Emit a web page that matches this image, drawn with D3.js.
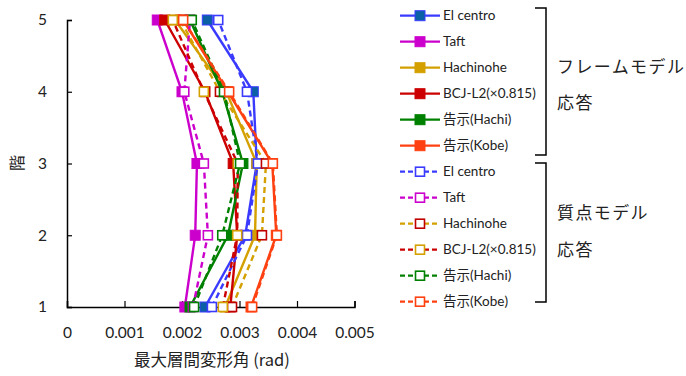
<!DOCTYPE html>
<html lang="ja">
<head>
<meta charset="UTF-8">
<title>最大層間変形角</title>
<script src="https://cdn.jsdelivr.net/npm/d3@7"></script>
<style>
  body { margin: 0; background: #fff; }
  text { font-family: Lato, "Noto Sans CJK JP", sans-serif; fill: #222; }
  .jp { font-family: "Noto Sans CJK JP", sans-serif; }
</style>
</head>
<body>
<script>
// stories (y) and x ticks
var stories = [1, 2, 3, 4, 5];
var xTicks = [0, 0.001, 0.002, 0.003, 0.004, 0.005];
var names = ["El centro", "Taft", "Hachinohe", "BCJ-L2(×0.815)", "告示(Hachi)", "告示(Kobe)"];

// frame model response (solid)
var frameElcentro = [0.00240, 0.00310, 0.00330, 0.00324, 0.00244];
var frameTaft     = [0.00205, 0.00223, 0.00226, 0.00200, 0.00157];
var frameHachinohe= [0.00275, 0.00327, 0.00330, 0.00277, 0.00188];
var frameBCJ      = [0.00284, 0.00296, 0.00289, 0.00240, 0.00170];
var frameHachi    = [0.00214, 0.00280, 0.00306, 0.00270, 0.00214];
var frameKobe     = [0.00320, 0.00364, 0.00357, 0.00280, 0.00202];

// mass model response (dashed)
var massElcentro  = [0.00252, 0.00313, 0.00332, 0.00313, 0.00263];
var massTaft      = [0.00219, 0.00245, 0.00238, 0.00204, 0.00214];
var massHachinohe = [0.00287, 0.00339, 0.00346, 0.00266, 0.00197];
var massBCJ       = [0.00271, 0.00296, 0.00297, 0.00238, 0.00184];
var massHachi     = [0.00221, 0.00270, 0.00301, 0.00273, 0.00217];
var massKobe      = [0.00322, 0.00365, 0.00358, 0.00282, 0.00202];

var lineColors = ["#3b3bff", "#cc00cc", "#d4a000", "#cc0000", "#008000", "#ff4010"];
var frameFill  = ["#0b5fa5", "#cc00cc", "#d4a000", "#cc0000", "#008000", "#ff4010"];
var massStroke = ["#3b3bff", "#cc00cc", "#c00000", "#d4a000", "#008000", "#ff4010"];

var frameData = [frameElcentro, frameTaft, frameHachinohe, frameBCJ, frameHachi, frameKobe];
var massData  = [massElcentro, massTaft, massHachinohe, massBCJ, massHachi, massKobe];

var width = 686, height = 376;
var svg = d3.select("body").append("svg")
    .attr("width", width)
    .attr("height", height);

var x = d3.scaleLinear().domain([0, 0.005]).range([67, 354.5]);
var y = d3.scaleLinear().domain([1, 5]).range([307, 20]);

// axes
var xAxis = svg.append("g").attr("transform", "translate(0," + y(1) + ")")
    .call(d3.axisBottom(x).tickValues(xTicks).tickSize(-6).tickPadding(20)
        .tickFormat(function (d) { return d === 0 ? "0" : d3.format(".3f")(d); }));
var yAxis = svg.append("g").attr("transform", "translate(" + x(0) + ",0)")
    .call(d3.axisLeft(y).tickValues(stories).tickSize(-5).tickPadding(20).tickFormat(d3.format("d")));

[xAxis, yAxis].forEach(function (a) {
    a.select(".domain").attr("stroke", "#000").attr("stroke-width", 1.5);
    a.selectAll(".tick line").attr("stroke", "#000").attr("stroke-width", 1.2);
    a.selectAll(".tick text").style("font-size", "15.5px").style("font-family", "Lato, sans-serif").attr("fill", "#222");
});
xAxis.selectAll(".tick text").attr("dy", "0.71em");

// axis titles
svg.append("text").attr("class", "jp")
    .attr("x", 212).attr("y", 366)
    .attr("text-anchor", "middle")
    .style("font-size", "16.5px")
    .text("最大層間変形角 (rad)");
svg.append("text").attr("class", "jp")
    .attr("transform", "translate(23,163) rotate(-90)")
    .attr("text-anchor", "middle")
    .style("font-size", "16px")
    .text("階");

var line = d3.line()
    .x(function (d) { return x(d.v); })
    .y(function (d) { return y(d.s); });

function pts(arr) {
    return arr.map(function (v, i) { return { v: v, s: stories[i] }; });
}

var plot = svg.append("g");

// solid series
frameData.forEach(function (arr, i) {
    var g = plot.append("g");
    g.append("path").datum(pts(arr))
        .attr("d", line)
        .attr("fill", "none")
        .attr("stroke", lineColors[i])
        .attr("stroke-width", 2.4);
    g.selectAll("rect").data(pts(arr)).enter().append("rect")
        .attr("x", function (d) { return x(d.v) - 5; })
        .attr("y", function (d) { return y(d.s) - 5; })
        .attr("width", 10).attr("height", 10)
        .attr("fill", frameFill[i])
        .attr("stroke", lineColors[i])
        .attr("stroke-width", 1);
});

// dashed series
massData.forEach(function (arr, i) {
    var g = plot.append("g");
    g.append("path").datum(pts(arr))
        .attr("d", line)
        .attr("fill", "none")
        .attr("stroke", lineColors[i])
        .attr("stroke-width", 2.4)
        .attr("stroke-dasharray", "6,4");
    g.selectAll("rect").data(pts(arr)).enter().append("rect")
        .attr("x", function (d) { return x(d.v) - 4.5; })
        .attr("y", function (d) { return y(d.s) - 4.5; })
        .attr("width", 9).attr("height", 9)
        .attr("fill", "#fff")
        .attr("stroke", massStroke[i])
        .attr("stroke-width", 1.6);
});

// legend
var legend = svg.append("g");
var rowY = function (k) { return 15.7 + 26 * k; };

function legendRow(k, i, dashed) {
    var yy = rowY(k);
    legend.append("line")
        .attr("x1", 400).attr("x2", 440)
        .attr("y1", yy).attr("y2", yy)
        .attr("stroke", lineColors[i])
        .attr("stroke-width", 2.2)
        .attr("stroke-dasharray", dashed ? "5,3" : null);
    legend.append("rect")
        .attr("x", 420 - (dashed ? 4.5 : 5)).attr("y", yy - (dashed ? 4.5 : 5))
        .attr("width", dashed ? 9 : 10).attr("height", dashed ? 9 : 10)
        .attr("fill", dashed ? "#fff" : frameFill[i])
        .attr("stroke", dashed ? massStroke[i] : lineColors[i])
        .attr("stroke-width", dashed ? 1.6 : 1);
    legend.append("text")
        .attr("x", 443).attr("y", yy)
        .attr("dy", "0.35em")
        .style("font-size", "13.5px")
        .style("font-family", "Lato, 'Noto Sans CJK JP', sans-serif")
        .text(names[i]);
}
names.forEach(function (n, i) { legendRow(i, i, false); });
names.forEach(function (n, i) { legendRow(i + 6, i, true); });

// brackets
function bracket(top, bottom) {
    legend.append("path")
        .attr("d", "M535," + top + "H546V" + bottom + "H535")
        .attr("fill", "none")
        .attr("stroke", "#000")
        .attr("stroke-width", 1.5);
}
bracket(8, 155);
bracket(163, 302);

var groupLabels = [["フレームモデル", 67], ["応答", 103], ["質点モデル", 213], ["応答", 250]];
groupLabels.forEach(function (d) {
    legend.append("text").attr("class", "jp")
        .attr("x", 557).attr("y", d[1])
        .attr("dy", "0.35em")
        .style("font-size", "17px")
        .style("letter-spacing", "1.4px")
        .text(d[0]);
});
</script>
</body>
</html>
